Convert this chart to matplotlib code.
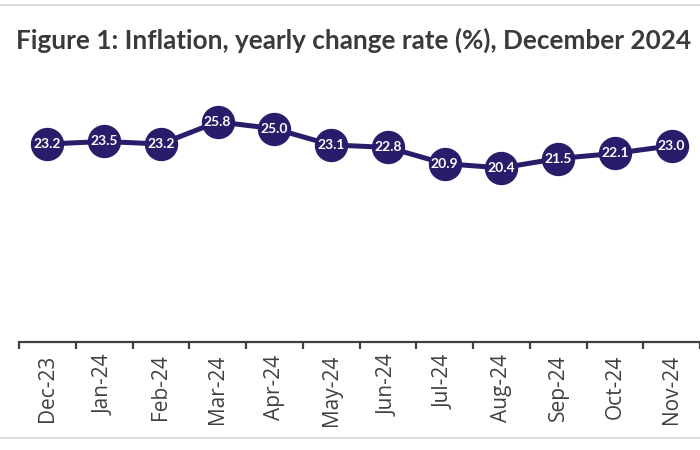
import matplotlib
matplotlib.use("Agg")
from matplotlib import pyplot as plt
from matplotlib.lines import Line2D

months = ["Dec-23", "Jan-24", "Feb-24", "Mar-24", "Apr-24", "May-24",
          "Jun-24", "Jul-24", "Aug-24", "Sep-24", "Oct-24", "Nov-24"]
inflation = [23.2, 23.5, 23.2, 25.8, 25.0, 23.1, 22.8, 20.9, 20.4, 21.5, 22.1, 23.0]

PURPLE = "#2b1b6b"
DARK = "#404040"

fig = plt.figure(figsize=(7, 4.5), dpi=100)
ax = fig.add_axes([19 / 700, 108 / 450, 681 / 700, 256 / 450])

x = list(range(len(months)))
ax.plot(x, inflation, color=PURPLE, linewidth=3.6, marker="o", markersize=23,
        markerfacecolor=PURPLE, markeredgecolor=PURPLE, clip_on=False, zorder=3)

for xi, v in zip(x, inflation):
    ax.text(xi, v, f"{v:.1f}", color="white", ha="center", va="center",
            fontsize=10, fontweight="bold", family="Lato", zorder=4)

ax.set_ylim(0, 30)
ax.set_xlim(-0.5, -0.5 + 681 / 57.8)

# axis styling: only the bottom spine, ticks between categories
for side in ["left", "right", "top"]:
    ax.spines[side].set_visible(False)
ax.spines["bottom"].set_color(DARK)
ax.spines["bottom"].set_linewidth(1.6)
ax.set_yticks([])
ax.set_xticks(x)
ax.set_xticklabels(months, rotation=90, fontsize=15, family="Open Sans", color=DARK)
ax.tick_params(axis="x", which="major", length=0, pad=9)
ax.set_xticks([i - 0.5 for i in range(len(months) + 1)], minor=True)
ax.tick_params(axis="x", which="minor", length=5, width=1.6, color=DARK, direction="out")

fig.text(16 / 700, 1 - 40 / 450, "Figure 1: Inflation, yearly change rate (%), December 2024",
         fontsize=18.8, fontweight="bold", family="Lato", color="#3a3a3a", va="center")

# light frame lines at top and bottom
fig.add_artist(Line2D([0, 1], [1 - 5 / 450, 1 - 5 / 450], color="#d4d4d4", linewidth=1.2))
fig.add_artist(Line2D([0, 1], [1 - 438 / 450, 1 - 438 / 450], color="#d4d4d4", linewidth=1.2))

fig.savefig("out.png", dpi=100)
